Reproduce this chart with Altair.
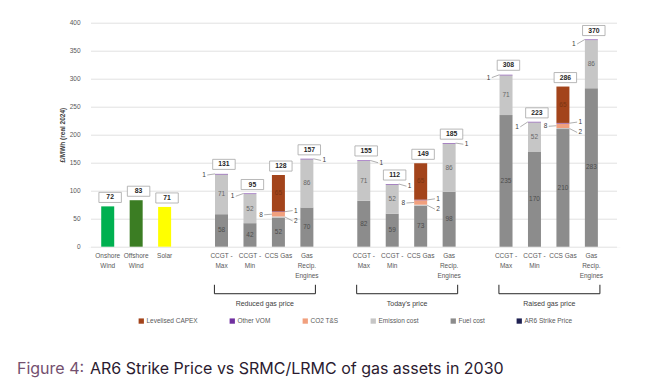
import altair as alt
import pandas as pd

# ---------------- data ----------------
ren_labels = ["Onshore\nWind", "Offshore\nWind", "Solar"]
ren_keys = ["Onshore", "Offshore", "Solar"]
ren_values = [72, 83, 71]
ren_slots = [0, 1, 2]

gas_labels = ["CCGT -\nMax", "CCGT -\nMin", "CCS Gas", "Gas\nRecip.\nEngines"]
scenario_names = ["Reduced gas price", "Today's price", "Raised gas price"]
scenario_keys = ["Reduced", "Today", "Raised"]
scenario_start = [4, 9, 14]

fuel_cost = {
    "Reduced": [58, 42, 52, 70],
    "Today": [82, 59, 73, 98],
    "Raised": [235, 170, 210, 283],
}
emission_cost = [71, 52, 2, 86]
co2_ts = [0, 0, 8, 0]
other_vom = [1, 1, 1, 1]
capex = [0, 0, 65, 0]
totals = {
    "Reduced": [131, 95, 128, 157],
    "Today": [155, 112, 149, 185],
    "Raised": [308, 223, 286, 370],
}
vom_side = {
    "Reduced": [-1, -1, 1, 1],
    "Today": [1, 1, 1, 1],
    "Raised": [-1, -1, 1, -1],
}
vom_dy = {
    "Reduced": [-2, -5, 1, -3],
    "Today": [-4, -4, 1, -2],
    "Raised": [-5, -9, 1, -8],
}

legend_items = ["Levelised CAPEX", "Other VOM", "CO2 T&S", "Emission cost",
                "Fuel cost", "AR6 Strike Price"]
legend_colors = ["#a3441b", "#7030a0", "#f1a07e", "#c6c6c6", "#8c8c8c", "#1f2152"]
ren_colors = ["#00b050", "#3b7d23", "#ffff00"]

# ---------------- tables ----------------
seg_rows, seglab_rows, box_rows, lead_rows, xlab_rows = [], [], [], [], []

for s, k, v, lab in zip(ren_slots, ren_keys, ren_values, ren_labels):
    seg_rows.append(dict(slot=s, key=k, y0=0, y1=v))
    box_rows.append(dict(slot=s, total=v))
    xlab_rows.append(dict(slot=s, label=lab))

for gi, sc in enumerate(scenario_keys):
    for ci in range(4):
        slot = scenario_start[gi] + ci
        xlab_rows.append(dict(slot=slot, label=gas_labels[ci]))
        segs = [("Fuel cost", fuel_cost[sc][ci]), ("Emission cost", emission_cost[ci]),
                ("CO2 T&S", co2_ts[ci]), ("Other VOM", other_vom[ci]),
                ("Levelised CAPEX", capex[ci])]
        base = 0
        bounds = {}
        for name, v in segs:
            if v > 0:
                seg_rows.append(dict(slot=slot, key=name, y0=base, y1=base + v))
                bounds[name] = (base, base + v)
                if v >= 10:
                    seglab_rows.append(dict(slot=slot, ymid=base + v / 2, txt=str(v), key=name))
                base += v
        box_rows.append(dict(slot=slot, total=totals[sc][ci]))
        side = vom_side[sc][ci]
        if ci == 2:
            c0, c1 = bounds["CO2 T&S"]
            v0, v1 = bounds["Other VOM"]
            e0, e1 = bounds["Emission cost"]
            lead_rows.append(dict(slot=slot, anchor=(c0 + c1) / 2, side=-1, dy=-1, txt=str(co2_ts[ci])))
            lead_rows.append(dict(slot=slot, anchor=(v0 + v1) / 2, side=1, dy=2, txt=str(other_vom[ci])))
            lead_rows.append(dict(slot=slot, anchor=(e0 + e1) / 2, side=1, dy=-7, txt=str(emission_cost[ci])))
        else:
            v0, v1 = bounds["Other VOM"]
            lead_rows.append(dict(slot=slot, anchor=v1, side=side, dy=vom_dy[sc][ci], txt=str(other_vom[ci])))

seg_df = pd.DataFrame(seg_rows)
seglab_df = pd.DataFrame(seglab_rows)
box_df = pd.DataFrame(box_rows)
box_df["bx0"] = box_df["slot"] - 0.31
box_df["bx1"] = box_df["slot"] + 0.48
box_df["by0"] = box_df["total"] + 7
box_df["by1"] = box_df["total"] + 25
box_df["tx"] = box_df["slot"] + 0.085
box_df["ty"] = box_df["total"] + 16

lead_df = pd.DataFrame(lead_rows)
lead_df["x0"] = lead_df["slot"] + lead_df["side"] * 0.23
lead_df["x1"] = lead_df["slot"] + lead_df["side"] * 0.50
lead_df["y1"] = lead_df["anchor"] + lead_df["dy"]
lead_df["tx"] = lead_df["slot"] + lead_df["side"] * 0.55

xlab_df = pd.DataFrame(xlab_rows)

br_rows = []
for name, st in zip(scenario_names, scenario_start):
    br_rows.append(dict(name=name, xa=st - 0.25, xb=st + 3 + 0.3, xm=st + 1.5 + 0.02,
                        ya=-68, yb=-84, yt=-102))
br_df = pd.DataFrame(br_rows)

# ---------------- chart ----------------
X_DOM = [-0.517, 17.83]
xs = alt.Scale(domain=X_DOM, nice=False, zero=False)
ys = alt.Scale(domain=[0, 400], nice=False)
FONT = "Liberation Sans"
GREY = "#595959"
YTITLE = "£/MWh (real 2024)"

yaxis = alt.Axis(values=list(range(0, 401, 50)), grid=True, ticks=False, domain=False,
                 labelFontSize=6.5, labelColor=GREY, labelPadding=8, labelFont=FONT,
                 titleFont=FONT, titleFontSize=6.5, titleColor="#404040", titleFontWeight="bold",
                 titlePadding=4, gridColor="#d9d9d9", gridWidth=0.8)


def X(field):
    return alt.X(field, scale=xs, axis=None)


def Y(field):
    return alt.Y(field, scale=ys, axis=yaxis, title=YTITLE)


color_scale = alt.Scale(domain=legend_items + ren_keys, range=legend_colors + ren_colors)

bars = alt.Chart(seg_df).mark_bar(size=13).encode(
    x=X("slot:Q"),
    y=Y("y0:Q"),
    y2="y1:Q",
    color=alt.Color("key:N", scale=color_scale,
                    legend=alt.Legend(values=legend_items, title=None, orient="none",
                                      legendX=50, legendY=295, direction="horizontal",
                                      symbolType="square", symbolSize=28, symbolStrokeWidth=0,
                                      labelFontSize=6.5, labelColor=GREY, labelFont=FONT,
                                      columnPadding=31, labelOffset=2)),
)

seg_text = alt.Chart(seglab_df).mark_text(fontSize=6.5, font=FONT).encode(
    x=X("slot:Q"), y=Y("ymid:Q"), text="txt:N",
    color=alt.Color("key:N", scale=alt.Scale(domain=["Fuel cost", "Emission cost", "Levelised CAPEX"],
                                             range=["#4d4d4d", "#666666", "#7a3412"]), legend=None),
)

boxes = alt.Chart(box_df).mark_rect(fill="white", stroke="#a6a6a6", strokeWidth=0.8).encode(
    x=X("bx0:Q"), x2="bx1:Q", y=Y("by0:Q"), y2="by1:Q",
)
box_text = alt.Chart(box_df).mark_text(fontSize=6.8, fontWeight="bold", font=FONT, color="#262626").encode(
    x=X("tx:Q"), y=Y("ty:Q"), text="total:Q",
)

lead_lines = alt.Chart(lead_df).mark_rule(color="#8c8c8c", strokeWidth=0.7).encode(
    x=X("x0:Q"), x2="x1:Q", y=Y("anchor:Q"), y2="y1:Q",
)
lead_text_l = alt.Chart(lead_df[lead_df["side"] < 0]).mark_text(
    fontSize=6.5, font=FONT, color="#404040", align="right").encode(
    x=X("tx:Q"), y=Y("y1:Q"), text="txt:N",
)
lead_text_r = alt.Chart(lead_df[lead_df["side"] > 0]).mark_text(
    fontSize=6.5, font=FONT, color="#404040", align="left").encode(
    x=X("tx:Q"), y=Y("y1:Q"), text="txt:N",
)

xlab_df["yl"] = -12
xlabels = alt.Chart(xlab_df).mark_text(fontSize=6.5, font=FONT, color=GREY, baseline="top",
                                       lineBreak="\n", lineHeight=10).encode(
    x=X("slot:Q"), y=Y("yl:Q"), text="label:N",
)

br_left = alt.Chart(br_df).mark_rule(color="#262626", strokeWidth=1).encode(
    x=X("xa:Q"), y=Y("ya:Q"), y2="yb:Q",
)
br_right = alt.Chart(br_df).mark_rule(color="#262626", strokeWidth=1).encode(
    x=X("xb:Q"), y=Y("ya:Q"), y2="yb:Q",
)
br_bottom = alt.Chart(br_df).mark_rule(color="#262626", strokeWidth=1).encode(
    x=X("xa:Q"), x2="xb:Q", y=Y("yb:Q"),
)
br_text = alt.Chart(br_df).mark_text(fontSize=7, font=FONT, color="#404040").encode(
    x=X("xm:Q"), y=Y("yt:Q"), text="name:N",
)

cap_df = pd.DataFrame({"a": ["Figure 4:"], "b": ["AR6 Strike Price vs SRMC/LRMC of gas assets in 2030"]})
cap_a = alt.Chart(cap_df).mark_text(fontSize=16, font="Inter", color="#74506f", align="left",
                                     baseline="alphabetic").encode(
    x=alt.value(-71), y=alt.value(351), text="a:N")
cap_b = alt.Chart(cap_df).mark_text(fontSize=16, font="Inter", color="#2b1b30", align="left",
                                     baseline="alphabetic").encode(
    x=alt.value(2), y=alt.value(351), text="b:N")

# hide the frame edges of the plot area
edge_df = pd.DataFrame({"k": [0]})
edge_l = alt.Chart(edge_df).mark_rect(color="white", strokeWidth=0).encode(
    x=alt.value(-3), x2=alt.value(3), y=alt.value(-1), y2=alt.value(225))
edge_r = alt.Chart(edge_df).mark_rect(color="white", strokeWidth=0).encode(
    x=alt.value(529), x2=alt.value(535), y=alt.value(-1), y2=alt.value(225))

chart = alt.layer(
    bars, seg_text, lead_lines, lead_text_l, lead_text_r, boxes, box_text,
    xlabels, br_left, br_right, br_bottom, br_text, cap_a, cap_b, edge_l, edge_r,
).resolve_scale(color="independent").properties(
    width=532, height=224, autosize="none", background="white",
    padding={"left": 80, "top": 14.7, "right": 40, "bottom": 134},
).configure(
    view=alt.ViewConfig(stroke=None, strokeWidth=0),
    style={"cell": {"stroke": "transparent", "strokeWidth": 0}},
).configure_axisX(grid=False, domain=False, ticks=False, labels=False)

chart.save("out.html", embed_options={"renderer": "svg", "actions": False})
